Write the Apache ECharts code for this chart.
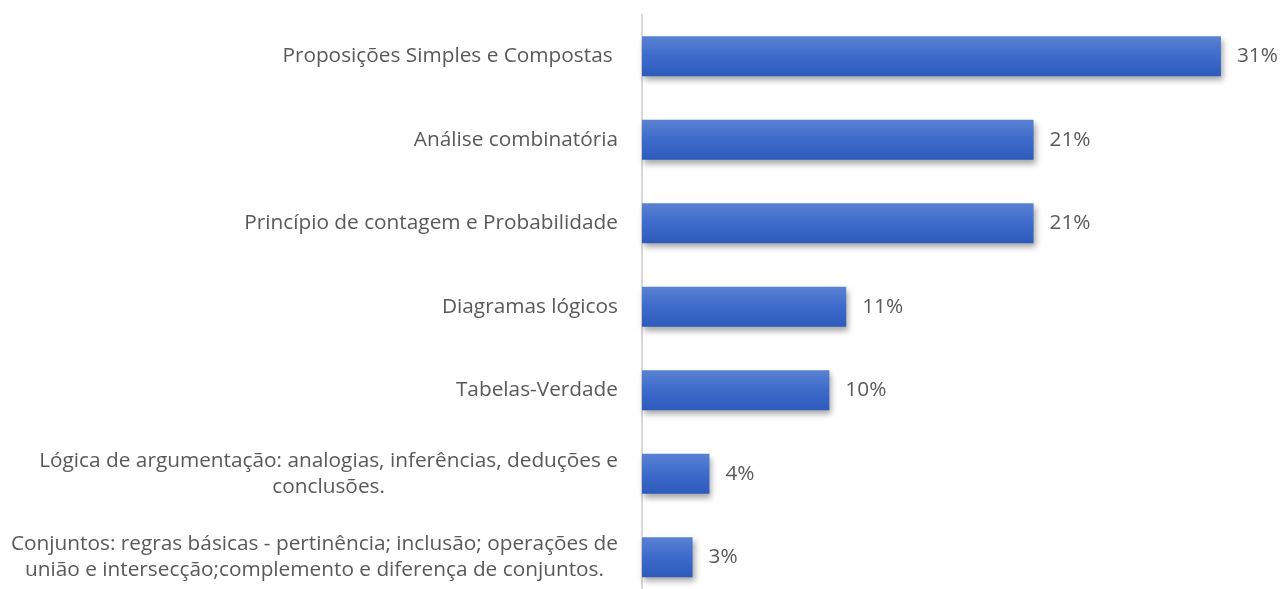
<!DOCTYPE html>
<html>
<head>
<meta charset="utf-8">
<script src="https://cdn.jsdelivr.net/npm/echarts@6/dist/echarts.min.js"></script>
<style>
  html, body { margin: 0; padding: 0; background: #fff; }
  #chart { width: 1284px; height: 589px; }
</style>
</head>
<body>
<div id="chart"></div>
<script>
// categories top to bottom
const categories = [
  'Proposições Simples e Compostas ',
  'Análise combinatória',
  'Princípio de contagem e Probabilidade',
  'Diagramas lógicos',
  'Tabelas-Verdade',
  'Lógica de argumentação: analogias, inferências, deduções e\nconclusões.',
  'Conjuntos: regras básicas - pertinência; inclusão; operações de\nunião e intersecção;complemento e diferença de conjuntos.'
];
// share of questions, in percent
const shares = [30.9, 20.9, 20.9, 10.9, 10.0, 3.6, 2.7];

const chart = echarts.init(document.getElementById('chart'));

const labelFont = {
  fontFamily: 'Open Sans',
  fontSize: 20.8,
  color: '#595959'
};

const option = {
  animation: false,
  grid: {
    left: 642,
    right: 5,
    top: 14.5,
    height: 584.5,
    containLabel: false,
    outerBoundsMode: 'none'
  },
  xAxis: {
    type: 'value',
    min: 0,
    max: 34,
    show: false
  },
  yAxis: {
    type: 'category',
    data: categories,
    inverse: true,
    axisLine: { show: true, lineStyle: { color: '#d9d9d9', width: 2 } },
    axisTick: { show: false },
    axisLabel: {
      margin: 24,
      ...labelFont,
      lineHeight: 26,
      formatter: (v) => v.split('\n').map(s => '{c|' + s + '}').join('\n'),
      rich: {
        c: { align: 'center', ...labelFont, lineHeight: 26 }
      }
    }
  },
  series: [
    {
      type: 'bar',
      data: shares,
      barWidth: 40,
      itemStyle: {
        color: new echarts.graphic.LinearGradient(0, 0, 0, 1, [
          { offset: 0, color: '#5a82d3' },
          { offset: 0.5, color: '#3d6acb' },
          { offset: 1, color: '#2d5bbb' }
        ]),
        shadowColor: 'rgba(0, 0, 0, 0.35)',
        shadowBlur: 6,
        shadowOffsetX: 2,
        shadowOffsetY: 4
      },
      label: {
        show: true,
        position: 'right',
        distance: 16,
        ...labelFont,
        formatter: (p) => Math.round(p.value) + '%'
      }
    }
  ]
};

chart.setOption(option);
</script>
</body>
</html>
